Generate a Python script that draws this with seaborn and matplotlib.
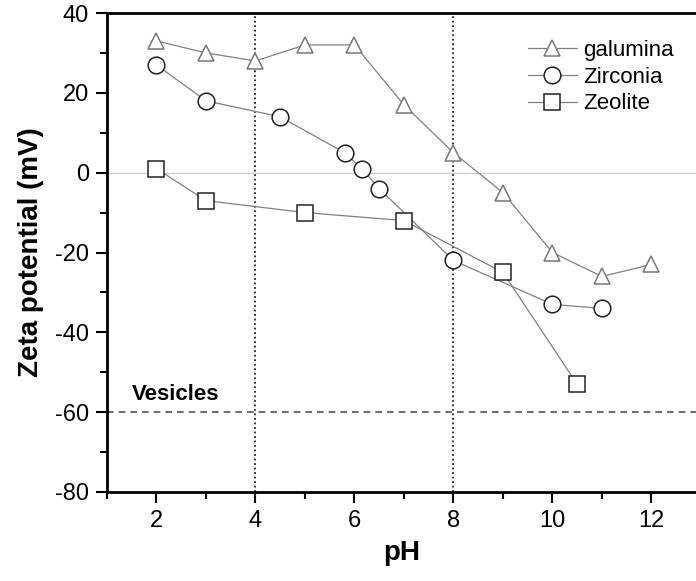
import matplotlib
matplotlib.use("Agg")
import matplotlib.pyplot as plt
import seaborn as sns
import pandas as pd
from matplotlib.ticker import MultipleLocator

sns.set_style("white")
plt.rcParams['font.family'] = ['Liberation Sans', 'DejaVu Sans']
plt.rcParams['axes.unicode_minus'] = False
plt.rcParams['text.color'] = 'black'
plt.rcParams['axes.labelcolor'] = 'black'
plt.rcParams['xtick.color'] = 'black'
plt.rcParams['ytick.color'] = 'black'

ph_galumina = [2, 3, 4, 5, 6, 7, 8, 9, 10, 11, 12]
zeta_galumina = [33, 30, 28, 32, 32, 17, 5, -5, -20, -26, -23]
ph_zirconia = [2, 3, 4.5, 5.8, 6.15, 6.5, 8, 10, 11]
zeta_zirconia = [27, 18, 14, 5, 1, -4, -22, -33, -34]
ph_zeolite = [2, 3, 5, 7, 9, 10.5]
zeta_zeolite = [1, -7, -10, -12, -25, -53]

series = [
    ("galumina", ph_galumina, zeta_galumina, "^", "#777777", 11),
    ("Zirconia", ph_zirconia, zeta_zirconia, "o", "#222222", 12),
    ("Zeolite", ph_zeolite, zeta_zeolite, "s", "#222222", 11),
]

fig = plt.figure(figsize=(6.96, 5.81), dpi=100)
ax = fig.add_axes([0.1537, 0.1532, 0.8463, 0.8244])

ax.axhline(0, color="#cccccc", lw=0.9, zorder=1)
ax.axhline(-60, color="#555555", lw=1.2, ls=(0, (4, 3)), zorder=1)
ax.axvline(4, color="#222222", lw=1.3, ls=(0, (1, 1.5)), zorder=1)
ax.axvline(8, color="#222222", lw=1.3, ls=(0, (1, 1.5)), zorder=1)

for name, x, y, m, ec, ms in series:
    df = pd.DataFrame({"pH": x, "zeta": y})
    sns.lineplot(data=df, x="pH", y="zeta", ax=ax, color="#808080", lw=0.9,
                 marker=m, markersize=ms, markerfacecolor="white",
                 markeredgecolor=ec, markeredgewidth=1.1, label=name, zorder=3)

ax.text(2.38, -55.5, "Vesicles", fontsize=16, fontweight="bold", ha="center",
        va="center", color="black")

ax.set_xlim(1, 12.9)
ax.set_ylim(-80, 40)
ax.xaxis.set_major_locator(MultipleLocator(2))
ax.xaxis.set_minor_locator(MultipleLocator(1))
ax.yaxis.set_major_locator(MultipleLocator(20))
ax.yaxis.set_minor_locator(MultipleLocator(10))
ax.tick_params(axis="both", which="major", direction="out", length=8, width=1.5,
               labelsize=17, color="black", labelcolor="black", bottom=True, left=True,
               pad=5)
ax.tick_params(axis="both", which="minor", direction="out", length=5, width=1.5,
               color="black", bottom=True, left=True)

for s in ["left", "bottom", "top"]:
    ax.spines[s].set_visible(True)
    ax.spines[s].set_color("black")
    ax.spines[s].set_linewidth(2)
ax.spines["right"].set_visible(False)

ax.set_xlabel("pH", fontsize=20, fontweight="bold", labelpad=6, color="black")
ax.set_ylabel("Zeta potential (mV)", fontsize=20, fontweight="bold", labelpad=8,
              color="black")

leg = ax.legend(loc="upper right", bbox_to_anchor=(0.997, 0.985), frameon=False,
                fontsize=16, handlelength=2.2, handletextpad=0.3, labelspacing=0.25)
for t in leg.get_texts():
    t.set_color("black")

fig.savefig("out.png", dpi=100)
